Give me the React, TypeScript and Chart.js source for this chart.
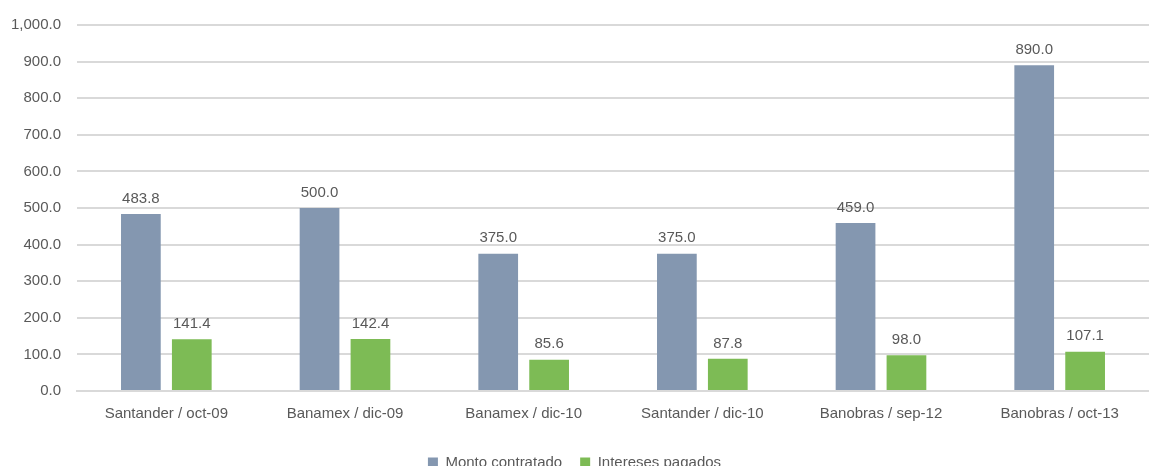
import React, { useEffect, useRef } from "react";
import { Chart, registerables } from "chart.js";

Chart.register(...registerables);

const categories = [
  "Santander / oct-09",
  "Banamex / dic-09",
  "Banamex / dic-10",
  "Santander / dic-10",
  "Banobras / sep-12",
  "Banobras / oct-13",
];
const montoContratado = [483.8, 500.0, 375.0, 375.0, 459.0, 890.0];
const interesesPagados = [141.4, 142.4, 85.6, 87.8, 98.0, 107.1];
const seriesNames = ["Monto contratado", "Intereses pagados"];

const FONT = "'Liberation Sans Narrow', 'Liberation Sans', Arial, sans-serif";
const TEXT = "#595959";

const fmt = (v: number) =>
  v.toLocaleString("en-US", { minimumFractionDigits: 1, maximumFractionDigits: 1 });

const labelPlugin = {
  id: "valueLabels",
  afterDatasetsDraw(chart: any) {
    const ctx = chart.ctx;
    ctx.save();
    ctx.font = `15px ${FONT}`;
    ctx.fillStyle = TEXT;
    ctx.textAlign = "center";
    ctx.textBaseline = "bottom";
    chart.data.datasets.forEach((ds: any, i: number) => {
      const meta = chart.getDatasetMeta(i);
      meta.data.forEach((bar: any, j: number) => {
        ctx.fillText(fmt(ds.data[j]), bar.x, bar.y - 8);
      });
    });
    ctx.restore();
  },
};

export default function App() {
  const ref = useRef<HTMLCanvasElement | null>(null);
  useEffect(() => {
    if (!ref.current) return;
    const chart = new Chart(ref.current, {
      type: "bar",
      data: {
        labels: categories,
        datasets: [
          {
            label: seriesNames[0],
            data: montoContratado,
            backgroundColor: "#8497B0",
            barPercentage: 0.78,
            categoryPercentage: 0.57,
          },
          {
            label: seriesNames[1],
            data: interesesPagados,
            backgroundColor: "#7DBB55",
            barPercentage: 0.78,
            categoryPercentage: 0.57,
          },
        ],
      },
      options: {
        animation: false,
        responsive: false,
        maintainAspectRatio: false,
        layout: { padding: { top: 8, right: 0, left: 0, bottom: 0 } },
        plugins: {
          legend: {
            position: "bottom",
            labels: {
              boxWidth: 10,
              boxHeight: 10,
              padding: 18,
              color: TEXT,
              font: { family: FONT, size: 15 },
            },
          },
          tooltip: { enabled: false },
        },
        scales: {
          x: {
            grid: { display: false, drawTicks: false },
            border: { display: true, color: "#D9D9D9", width: 2 },
            ticks: {
              color: TEXT,
              font: { family: FONT, size: 15 },
              padding: 14,
              maxRotation: 0,
            },
          },
          y: {
            min: 0,
            max: 1000,
            grid: { color: "#D9D9D9", lineWidth: 2, drawTicks: false },
            border: { display: false },
            afterFit: (s: any) => {
              s.width = 77;
            },
            ticks: {
              stepSize: 100,
              color: TEXT,
              font: { family: FONT, size: 15 },
              padding: 16,
              callback: (v: any) => fmt(Number(v)),
            },
          },
        },
      },
      plugins: [labelPlugin],
    });
    return () => chart.destroy();
  }, []);
  return (
    <div
      style={{
        position: "fixed",
        left: 0,
        top: 0,
        width: 1149,
        height: 466,
        overflow: "hidden",
        background: "#fff",
      }}
    >
      <canvas ref={ref} width={1149} height={480} style={{ width: 1149, height: 480, display: "block" }} />
    </div>
  );
}
